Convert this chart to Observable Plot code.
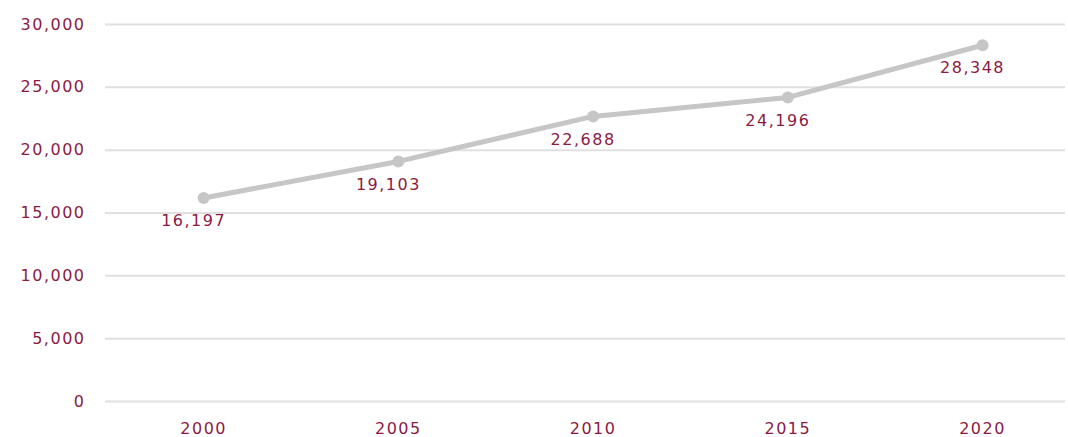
<!DOCTYPE html>
<html>
<head>
<meta charset="utf-8">
<script src="https://cdn.jsdelivr.net/npm/d3@7"></script>
<script src="https://cdn.jsdelivr.net/npm/@observablehq/plot@0.6"></script>
<style>
  html, body { margin: 0; padding: 0; background: #fff; }
  #chart svg { display: block; }
</style>
</head>
<body>
<div id="chart"></div>
<script>
const years = [2000, 2005, 2010, 2015, 2020];
const values = [16197, 19103, 22688, 24196, 28348];
const yTicks = [0, 5000, 10000, 15000, 20000, 25000, 30000];

const data = years.map((year, i) => ({year, value: values[i]}));

const textColor = "#8c1a44";
const fmt = d3.format(",");

const chart = Plot.plot({
  width: 1068,
  height: 437,
  marginLeft: 105,
  marginRight: 3,
  marginTop: 24,
  marginBottom: 36,
  style: {fontFamily: "'DejaVu Sans', sans-serif", fontSize: "16px", color: textColor, background: "#fff"},
  x: {type: "linear", domain: [1997.48, 2022.13], label: null},
  y: {domain: [0, 30000], label: null},
  marks: [
    Plot.ruleY(yTicks, {stroke: "#e0e0e0", strokeWidth: 2}),
    Plot.axisY({ticks: yTicks, tickSize: 0, tickPadding: 20, tickFormat: fmt, fill: textColor, fontSize: 16, label: null}),
    Plot.axisX({ticks: years, tickSize: 0, tickPadding: 21, tickFormat: d => String(d), fill: textColor, fontSize: 16, label: null}),
    Plot.line(data, {x: "year", y: "value", stroke: "#c6c6c6", strokeWidth: 5}),
    Plot.dot(data, {x: "year", y: "value", r: 6, fill: "#c6c6c6"}),
    Plot.text(data, {x: "year", y: "value", text: d => fmt(d.value), dx: -10, dy: 23, fill: textColor, fontSize: 16})
  ]
});

chart.querySelectorAll("text").forEach(t => t.setAttribute("letter-spacing", "1.5"));
document.getElementById("chart").append(chart);
</script>
</body>
</html>
